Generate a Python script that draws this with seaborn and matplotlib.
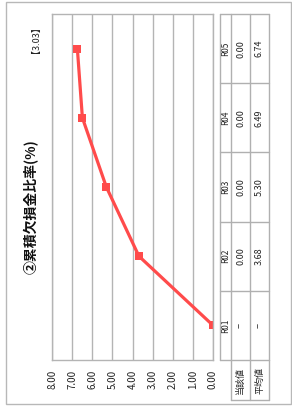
import numpy as np
import pandas as pd
import matplotlib
matplotlib.use("Agg")
import matplotlib.pyplot as plt
import seaborn as sns
from matplotlib import transforms as mtransforms
from matplotlib.patches import Rectangle
from matplotlib.lines import Line2D

# ---- data ----
categories = ["R01", "R02", "R03", "R04", "R05"]
current_values = [np.nan, 0.00, 0.00, 0.00, 0.00]   # 当該値
average_values = [np.nan, 3.68, 5.30, 6.49, 6.74]   # 平均値
value_ticks = [0, 1, 2, 3, 4, 5, 6, 7, 8]
row_labels = ["当該値", "平均値"]
title = "②累積欠損金比率(%)"
reference_label = "【3.03】"

sns.set_theme(style="white")
plt.rcParams["font.family"] = ["Noto Sans CJK JP", "DejaVu Sans"]

W, H = 292, 407
fig = plt.figure(figsize=(W / 100, H / 100), dpi=100)

# overlay in pixel coordinates (for frame, title, table)
ax0 = fig.add_axes([0, 0, 1, 1])
ax0.set_xlim(0, W)
ax0.set_ylim(H, 0)
ax0.axis("off")

# main plot area (chart is rotated: values along x, categories along y)
pl, pr, pt, pb = 52, 213, 14, 360
ax = fig.add_axes([pl / W, (H - pb) / H, (pr - pl) / W, (pb - pt) / H])

df = pd.DataFrame({"category": categories,
                   "pos": np.arange(len(categories)),
                   "avg": average_values})
df["plot"] = df["avg"].fillna(0.0)

line_color = "#ff4b4b"
sns.lineplot(data=df, x="plot", y="pos", orient="y", sort=False,
             marker="s", color=line_color, linewidth=2.3,
             markersize=6, markeredgewidth=0, errorbar=None, ax=ax)

grid_c = "#b4b4b4"
ax.set_xlim(8, 0)
ax.set_ylim(-0.5, len(categories) - 0.5)
ax.set_yticks([])
ax.set_xticks(value_ticks)
ax.set_xticklabels([f"{t:.2f}" for t in value_ticks], rotation=90,
                   fontsize=7, color="#222222")
ax.tick_params(axis="x", length=0, pad=7)
ax.grid(axis="x", color=grid_c, linewidth=1)
ax.grid(axis="y", visible=False)
ax.set_xlabel("")
ax.set_ylabel("")
for s in ax.spines.values():
    s.set_color(grid_c)
    s.set_linewidth(1)

# outer frame
ax0.add_patch(Rectangle((6, 2), 285, 402, fill=False,
                        edgecolor="#b8b8b8", linewidth=1))

# title and reference value
ax0.text(31, 207, title, rotation=90, ha="center", va="center",
         fontsize=10, fontweight="bold", color="#111111")
ax0.text(31, 35, reference_label, rotation=90, ha="center", va="center",
         fontsize=6.5, color="#222222")

# ---- data table ----
tc = "#b0b0b0"
trans = mtransforms.blended_transform_factory(ax0.transData, ax.transData)
x_head, x_r1, x_r2, x_end = 220, 231, 250, 269
n = len(categories)
for xv in (x_head, x_r1, x_r2, x_end):
    fig.add_artist(Line2D([xv, xv], [-0.5, n - 0.5], transform=trans,
                          color=tc, linewidth=1))
for b in np.arange(n + 1) - 0.5:
    fig.add_artist(Line2D([x_head, x_end], [b, b], transform=trans,
                          color=tc, linewidth=1))
# row label boxes
for xv in (x_r1, x_r2, x_end):
    ax0.plot([xv, xv], [pb, 400], color=tc, linewidth=1)
ax0.plot([x_r1, x_end], [400, 400], color=tc, linewidth=1)


def fmt(v):
    return "−" if pd.isna(v) else f"{v:.2f}"


for i, cat in enumerate(categories):
    ax0.text((x_head + x_r1) / 2, i, cat, transform=trans, rotation=90,
             ha="center", va="center", fontsize=6, color="#222222")
    ax0.text((x_r1 + x_r2) / 2, i, fmt(current_values[i]), transform=trans,
             rotation=90, ha="center", va="center", fontsize=6.5,
             color="#222222")
    ax0.text((x_r2 + x_end) / 2, i, fmt(average_values[i]), transform=trans,
             rotation=90, ha="center", va="center", fontsize=6.5,
             color="#222222")

ax0.text((x_r1 + x_r2) / 2, 380, row_labels[0], rotation=90,
         ha="center", va="center", fontsize=6.5, color="#222222")
ax0.text((x_r2 + x_end) / 2, 380, row_labels[1], rotation=90,
         ha="center", va="center", fontsize=6.5, color="#222222")

fig.savefig("out.png", dpi=100, facecolor="white")
